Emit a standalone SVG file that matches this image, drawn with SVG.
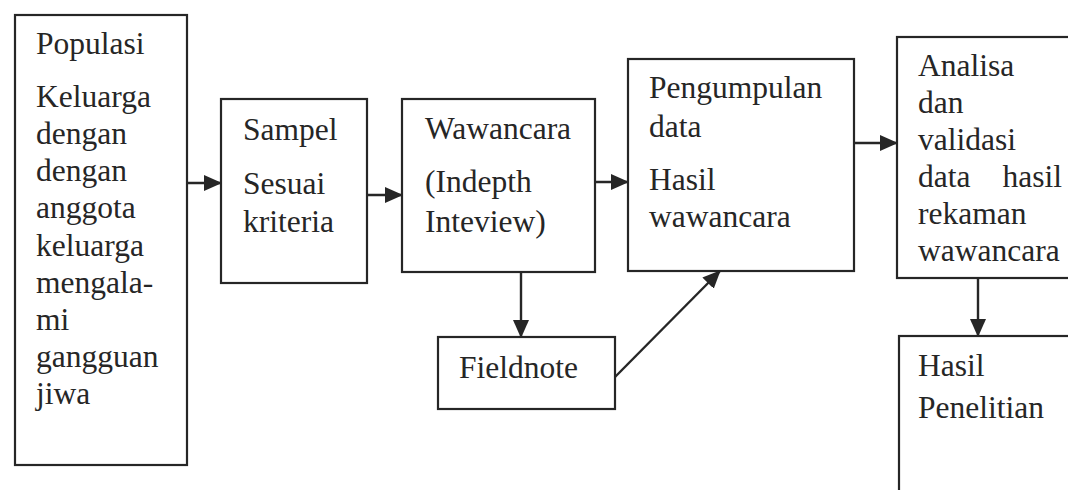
<svg xmlns="http://www.w3.org/2000/svg" width="1068" height="490" viewBox="0 0 1068 490">
<style>
.box{fill:none;stroke:#262626;stroke-width:2.2}
.t{font-family:"Liberation Serif","Times New Roman",serif;font-size:31.5px;fill:#262626}
.c{fill:none;stroke:#262626;stroke-width:2.4}
</style>
<defs>
<marker id="ah" markerUnits="userSpaceOnUse" markerWidth="18" markerHeight="16" refX="17" refY="8" orient="auto">
<path d="M0,0 L18,8 L0,16 Z" fill="#262626"/>
</marker>
</defs>
<rect width="1068" height="490" fill="#ffffff"/>
<g id="populasi">
<rect class="box" x="15" y="15" width="172" height="450"/>
<text class="t" x="36" y="54">Populasi</text>
<text class="t" x="36" y="107">Keluarga</text>
<text class="t" x="36" y="144">dengan</text>
<text class="t" x="36" y="181">dengan</text>
<text class="t" x="36" y="218">anggota</text>
<text class="t" x="36" y="256">keluarga</text>
<text class="t" x="36" y="293">mengala-</text>
<text class="t" x="36" y="330">mi</text>
<text class="t" x="36" y="367">gangguan</text>
<text class="t" x="36" y="404">jiwa</text>
</g>
<g id="sampel">
<rect class="box" x="221" y="99" width="146" height="184"/>
<text class="t" x="243" y="140">Sampel</text>
<text class="t" x="243" y="194">Sesuai</text>
<text class="t" x="243" y="232">kriteria</text>
</g>
<g id="wawancara">
<rect class="box" x="402" y="99" width="193" height="173"/>
<text class="t" x="425" y="139">Wawancara</text>
<text class="t" x="425" y="192">(Indepth</text>
<text class="t" x="425" y="232">Inteview)</text>
</g>
<g id="pengumpulan">
<rect class="box" x="628" y="59" width="226" height="212"/>
<text class="t" x="649" y="98">Pengumpulan</text>
<text class="t" x="649" y="137">data</text>
<text class="t" x="649" y="190">Hasil</text>
<text class="t" x="649" y="227">wawancara</text>
</g>
<g id="analisa">
<rect class="box" x="897" y="37" width="200" height="241"/>
<text class="t" x="918" y="76">Analisa</text>
<text class="t" x="918" y="113">dan</text>
<text class="t" x="918" y="150">validasi</text>
<text class="t" x="918" y="187">data</text>
<text class="t" x="1062" y="187" text-anchor="end">hasil</text>
<text class="t" x="918" y="224">rekaman</text>
<text class="t" x="918" y="261">wawancara</text>
</g>
<g id="fieldnote">
<rect class="box" x="438" y="337" width="177" height="72"/>
<text class="t" x="459" y="378">Fieldnote</text>
</g>
<g id="hasil">
<rect class="box" x="899" y="336" width="200" height="180"/>
<text class="t" x="918" y="376">Hasil</text>
<text class="t" x="918" y="418">Penelitian</text>
</g>
<g id="connectors">
<line class="c" x1="187" y1="183" x2="221" y2="183" marker-end="url(#ah)"/>
<line class="c" x1="367" y1="195" x2="402" y2="195" marker-end="url(#ah)"/>
<line class="c" x1="595" y1="182" x2="628" y2="182" marker-end="url(#ah)"/>
<line class="c" x1="854" y1="143" x2="897" y2="143" marker-end="url(#ah)"/>
<line class="c" x1="521" y1="272" x2="521" y2="337" marker-end="url(#ah)"/>
<line class="c" x1="615" y1="377" x2="720" y2="271" marker-end="url(#ah)"/>
<line class="c" x1="978" y1="278" x2="978" y2="336" marker-end="url(#ah)"/>
</g>
</svg>
